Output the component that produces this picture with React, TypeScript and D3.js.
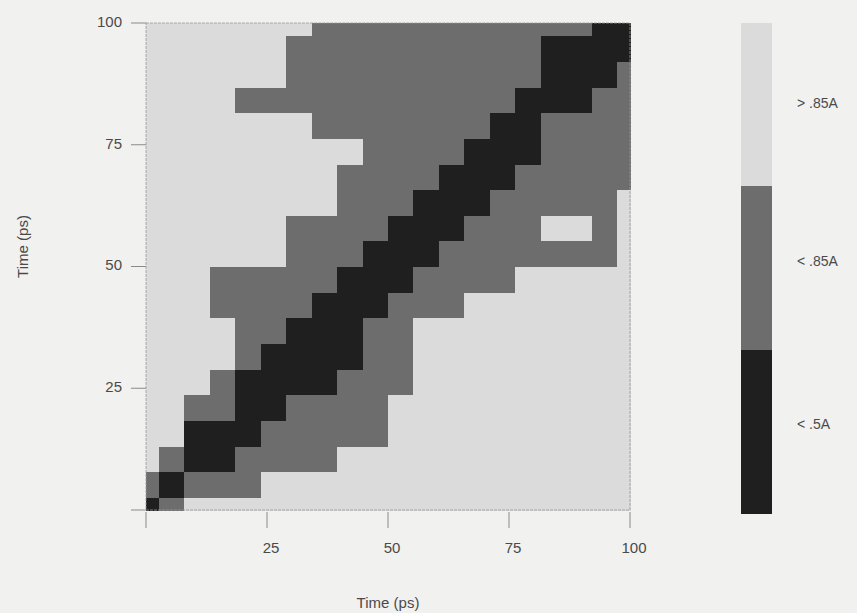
import * as d3 from "d3";

// frame times (ps) of the 20 snapshots compared in the matrix
const frameTimes = [0, 5.26, 10.53, 15.79, 21.05, 26.32, 31.58, 36.84, 42.11, 47.37,
  52.63, 57.89, 63.16, 68.42, 73.68, 78.95, 84.21, 89.47, 94.74, 100];

const levels = ["< .5A", "< .85A", "> .85A"];
const levelColors = ["#1f1f1f", "#6d6d6d", "#dbdbdb"];

// rows from 0 ps (bottom) to 100 ps (top); 0 = < .5A, 1 = < .85A, 2 = > .85A
const rmsdRows = [
  [0,1,2,2,2,2,2,2,2,2,2,2,2,2,2,2,2,2,2,2],
  [1,0,1,1,1,2,2,2,2,2,2,2,2,2,2,2,2,2,2,2],
  [2,1,0,0,1,1,1,1,2,2,2,2,2,2,2,2,2,2,2,2],
  [2,2,0,0,0,1,1,1,1,1,2,2,2,2,2,2,2,2,2,2],
  [2,2,1,1,0,0,1,1,1,1,2,2,2,2,2,2,2,2,2,2],
  [2,2,2,1,0,0,0,0,1,1,1,2,2,2,2,2,2,2,2,2],
  [2,2,2,2,1,0,0,0,0,1,1,2,2,2,2,2,2,2,2,2],
  [2,2,2,2,1,1,0,0,0,1,1,2,2,2,2,2,2,2,2,2],
  [2,2,2,1,1,1,1,0,0,0,1,1,1,2,2,2,2,2,2,2],
  [2,2,2,1,1,1,1,1,0,0,0,1,1,1,1,2,2,2,2,2],
  [2,2,2,2,2,2,1,1,1,0,0,0,1,1,1,1,1,1,1,2],
  [2,2,2,2,2,2,1,1,1,1,0,0,0,1,1,1,2,2,1,2],
  [2,2,2,2,2,2,2,2,1,1,1,0,0,0,1,1,1,1,1,2],
  [2,2,2,2,2,2,2,2,1,1,1,1,0,0,0,1,1,1,1,1],
  [2,2,2,2,2,2,2,2,2,1,1,1,1,0,0,0,1,1,1,1],
  [2,2,2,2,2,2,2,1,1,1,1,1,1,1,0,0,1,1,1,1],
  [2,2,2,2,1,1,1,1,1,1,1,1,1,1,1,0,0,0,1,1],
  [2,2,2,2,2,2,1,1,1,1,1,1,1,1,1,1,0,0,0,1],
  [2,2,2,2,2,2,1,1,1,1,1,1,1,1,1,1,0,0,0,0],
  [2,2,2,2,2,2,2,1,1,1,1,1,1,1,1,1,1,1,0,0],
];

const tickValues = [0, 25, 50, 75, 100];
const tickLabels = ["", "25", "50", "75", "100"];

export default function App() {
  const width = 857, height = 613;
  const x = d3.scaleLinear([0, 100], [146, 630]);
  const y = d3.scaleLinear([0, 100], [510, 23]);

  // cell edges: halfway between neighbouring frames, clipped to the axis
  const n = frameTimes.length;
  const lo = frameTimes.map((t, k) => (k === 0 ? 0 : (frameTimes[k - 1] + t) / 2));
  const hi = frameTimes.map((t, k) => (k === n - 1 ? 100 : (t + frameTimes[k + 1]) / 2));

  // legend bar, top to bottom
  const legendOrder = [2, 1, 0];
  const band = d3.scaleBand(legendOrder.map(String), [23, 513]);

  const font = "'Liberation Sans', Arial, sans-serif";
  const textColor = "#4a4a4a";

  return (
    <svg width={width} height={height} style={{position: "absolute", left: 0, top: 0}}>
      <rect width={width} height={height} fill="#f1f1ef" />
      <g shapeRendering="crispEdges">
        {rmsdRows.map((row, r) =>
          row.map((v, k) => (
            <rect key={r + "-" + k}
              x={x(lo[k])} y={y(hi[r])}
              width={x(hi[k]) - x(lo[k]) + 0.6}
              height={y(lo[r]) - y(hi[r]) + 0.6}
              fill={levelColors[v]} />
          ))
        )}
      </g>
      <rect x={x(0)} y={y(100)} width={x(100) - x(0)} height={y(0) - y(100)}
        fill="none" stroke="#9a9a9a" strokeWidth="0.8" strokeDasharray="3,1" />

      <g stroke="#8a8a8a" strokeWidth="1">
        {tickValues.map((t) => (
          <line key={"yt" + t} x1={x(0) - 15} x2={x(0)} y1={y(t)} y2={y(t)} />
        ))}
        {tickValues.map((t) => (
          <line key={"xt" + t} x1={x(t)} x2={x(t)} y1={y(0) + 2} y2={y(0) + 18} />
        ))}
      </g>
      <g fontFamily={font} fontSize="15" fill={textColor}>
        {tickValues.map((t, i) => (
          <text key={"yl" + t} x={x(0) - 24} y={y(t)} textAnchor="end" dominantBaseline="middle">
            {tickLabels[i]}
          </text>
        ))}
        {tickValues.map((t, i) => (
          <text key={"xl" + t} x={x(t) + 4} y={y(0) + 39} textAnchor="middle" dominantBaseline="middle">
            {tickLabels[i]}
          </text>
        ))}
        <text x={(x(0) + x(100)) / 2} y={604} textAnchor="middle" dominantBaseline="middle">Time (ps)</text>
        <text transform={`translate(24,${(y(0) + y(100)) / 2 - 20}) rotate(-90)`} textAnchor="middle"
          dominantBaseline="middle">Time (ps)</text>
      </g>

      <g shapeRendering="crispEdges">
        {legendOrder.map((v) => (
          <rect key={"lg" + v} x={741} y={band(String(v))} width={31} height={band.bandwidth() + 0.5}
            fill={levelColors[v]} />
        ))}
      </g>
      <g fontFamily={font} fontSize="14" fill={textColor}>
        {legendOrder.map((v, i) => (
          <text key={"lt" + v} x={797} y={band(String(v))! + band.bandwidth() / 2 - (i === 0 ? 0 : 6)}
            dominantBaseline="middle">{levels[v]}</text>
        ))}
      </g>
    </svg>
  );
}
